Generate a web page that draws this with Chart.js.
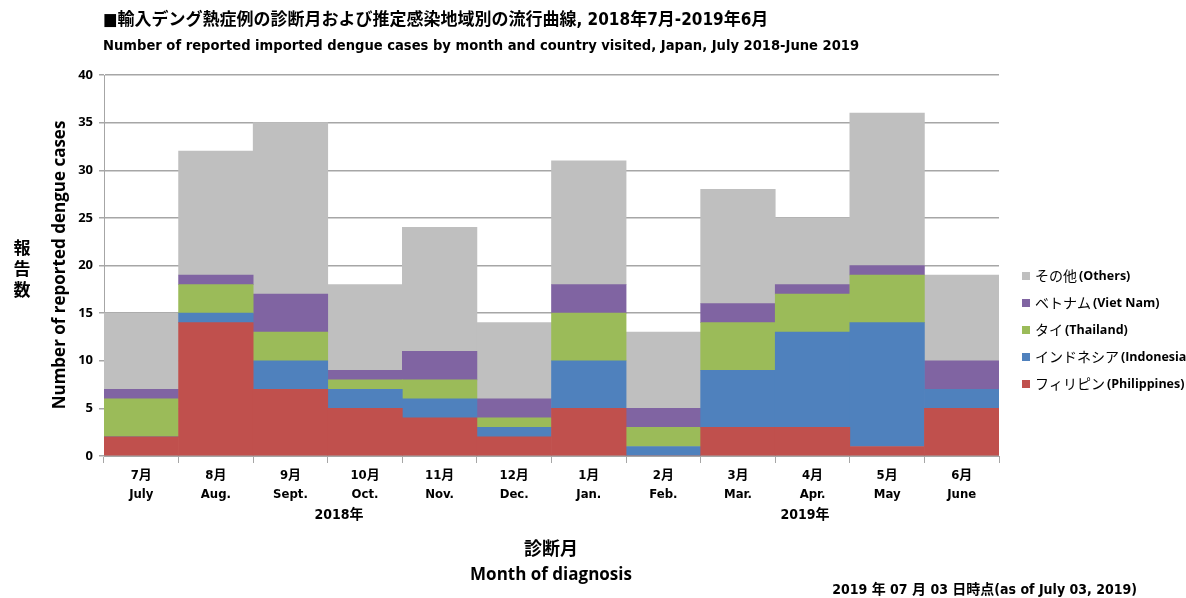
<!DOCTYPE html>
<html><head><meta charset="utf-8">
<script src="https://cdn.jsdelivr.net/npm/chart.js@4"></script>
<style>html,body{margin:0;padding:0;background:#fff}#wrap{width:1186px;height:598px;position:relative}</style>
</head><body><div id="wrap"><canvas id="c" width="1186" height="598"></canvas></div>
<script>
const monthsJa = ["7月","8月","9月","10月","11月","12月","1月","2月","3月","4月","5月","6月"];
const monthsEn = ["July","Aug.","Sept.","Oct.","Nov.","Dec.","Jan.","Feb.","Mar.","Apr.","May","June"];
const yearLabels = ["2018年","2019年"];
const philippines = [2,14,7,5,4,2,5,0,3,3,1,5];
const indonesia   = [0,1,3,2,2,1,5,1,6,10,13,2];
const thailand    = [4,3,3,1,2,1,5,2,5,4,5,0];
const vietnam     = [1,1,4,1,3,2,3,2,2,1,1,3];
const others      = [8,13,18,9,13,8,13,8,12,7,16,9];
const seriesJa = ["フィリピン","インドネシア","タイ","ベトナム","その他"];
const seriesEn = ["(Philippines)","(Indonesia)","(Thailand)","(Viet Nam)","(Others)"];
const colors = ["#C0504D","#4F81BD","#9BBB59","#8064A2","#BFBFBF"];
const yTicks = [0,5,10,15,20,25,30,35,40];

const COND = '"Liberation Sans Narrow","DejaVu Sans Condensed","Noto Sans CJK JP",sans-serif';
const SANS = '"Open Sans","Noto Sans CJK JP",sans-serif';
const JP = '"Noto Sans CJK JP",sans-serif';

const seriesData = [philippines, indonesia, thailand, vietnam, others];

const textPlugin = {
  id:'texts',
  afterDraw(chart){
    const ctx = chart.ctx, xs = chart.scales.x;
    ctx.save();
    ctx.fillStyle = '#000';
    ctx.textBaseline = 'middle';
    ctx.textAlign = 'left';
    ctx.font = 'bold 17px ' + COND;
    ctx.fillText('■輸入デング熱症例の診断月および推定感染地域別の流行曲線, 2018年7月-2019年6月', 103, 21);
    ctx.font = 'bold 14.6px ' + COND;
    ctx.fillText('Number of reported imported dengue cases by month and country visited, Japan, July 2018-June 2019', 103, 46);
    ctx.textAlign = 'center';
    for (let i=0;i<monthsJa.length;i++){
      const px = xs.getPixelForValue(i);
      ctx.font = 'bold 13px ' + COND;
      ctx.fillText(monthsJa[i], px, 476);
      ctx.fillText(monthsEn[i], px, 495);
    }
    ctx.font = 'bold 14px ' + COND;
    ctx.fillText(yearLabels[0], xs.getPixelForValue(2.65), 515);
    ctx.fillText(yearLabels[1], xs.getPixelForValue(8.9), 515);
    ctx.font = 'bold 18px ' + JP;
    ctx.fillText('診断月', 551, 548);
    ctx.font = 'bold 17px ' + SANS;
    ctx.fillText('Month of diagnosis', 551, 575);
    ctx.font = 'bold 17px ' + JP;
    ['報','告','数'].forEach((ch,k)=>ctx.fillText(ch, 22, 248 + k*21));
    ctx.save();
    ctx.translate(60, 265);
    ctx.rotate(-Math.PI/2);
    ctx.font = 'bold 17px ' + SANS;
    ctx.fillText('Number of reported dengue cases', 0, 0);
    ctx.restore();
    ctx.textAlign = 'right';
    ctx.font = 'bold 14px ' + COND;
    ctx.fillText('2019 年 07 月 03 日時点(as of July 03, 2019)', 1137, 590);
    ctx.textAlign = 'left';
    for (let k=0;k<seriesJa.length;k++){
      const idx = seriesJa.length-1-k;
      const y = 276 + k*27;
      ctx.fillStyle = colors[idx];
      ctx.fillRect(1022, y-4, 8, 8);
      ctx.fillStyle = '#000';
      ctx.font = '14px ' + JP;
      ctx.fillText(seriesJa[idx], 1035, y);
      const w = ctx.measureText(seriesJa[idx]).width;
      ctx.font = 'bold 12.5px ' + SANS;
      ctx.fillText(seriesEn[idx], 1035 + w + 2, y);
    }
    ctx.restore();
  }
};

new Chart(document.getElementById('c'), {
  type:'bar',
  data:{
    labels: monthsEn,
    datasets: seriesData.map((d,i)=>({label: seriesEn[i], data:d, backgroundColor: colors[i], borderWidth:0,
      barPercentage:1, categoryPercentage:1}))
  },
  options:{
    responsive:false, animation:false,
    layout:{padding:{left:0,right:187,top:75,bottom:0}},
    plugins:{legend:{display:false}, tooltip:{enabled:false}},
    scales:{
      x:{stacked:true,
        grid:{offset:true, drawOnChartArea:false, color:'#A6A6A6', tickLength:7, lineWidth:1},
        border:{color:'#A6A6A6'},
        ticks:{display:false},
        afterFit(s){ s.height = 142; }
      },
      y:{stacked:true, min:0, max:40,
        afterBuildTicks(s){ s.ticks = yTicks.map(v=>({value:v})); },
        grid:{color:'#A6A6A6', lineWidth:1.5, tickLength:5},
        border:{color:'#A6A6A6'},
        ticks:{color:'#000', font:{family:'"Open Sans",sans-serif', weight:'bold', size:13}, padding:6},
        afterFit(s){ s.width = 104; }
      }
    }
  },
  plugins:[textPlugin]
});
</script></body></html>
